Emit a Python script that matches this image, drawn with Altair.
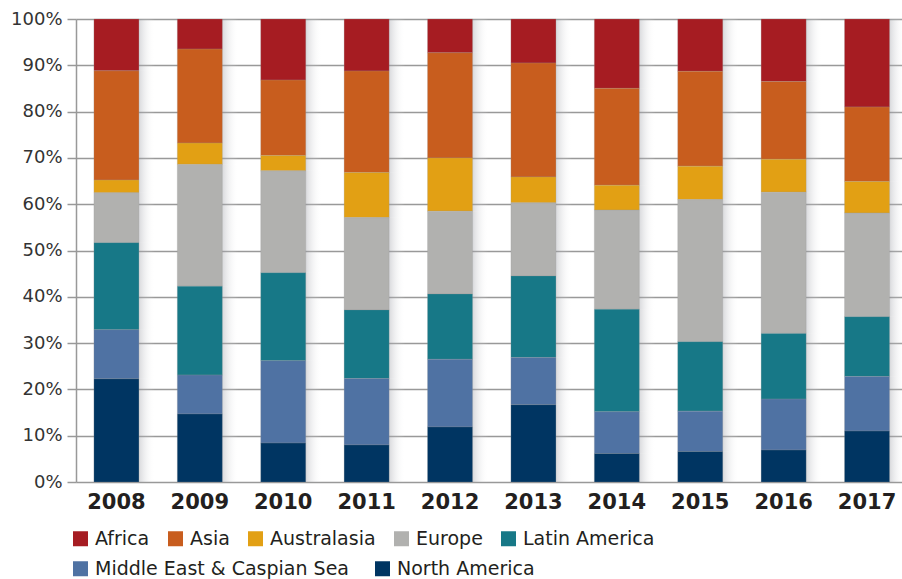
import altair as alt
import pandas as pd

years = ["2008", "2009", "2010", "2011", "2012", "2013", "2014", "2015", "2016", "2017"]
regions = ["Africa", "Asia", "Australasia", "Europe", "Latin America",
           "Middle East & Caspian Sea", "North America"]
colors = ["#A61C22", "#C85D1E", "#E2A014", "#B1B1AF", "#177887", "#4F72A3", "#003562"]

africa = [11.2, 6.5, 13.2, 11.2, 7.3, 9.5, 15.1, 11.3, 13.5, 19.0]
asia = [23.6, 20.3, 16.3, 21.9, 22.7, 24.6, 21.1, 20.5, 16.8, 16.1]
australasia = [2.7, 4.6, 3.3, 9.7, 11.5, 5.6, 5.4, 7.2, 7.1, 6.8]
europe = [10.8, 26.3, 22.0, 19.9, 17.9, 15.8, 21.6, 30.7, 30.5, 22.4]
latin_america = [18.8, 19.2, 19.0, 14.8, 14.1, 17.6, 22.3, 15.0, 14.2, 12.9]
middle_east = [10.6, 8.4, 17.8, 14.3, 14.6, 10.2, 9.1, 8.7, 11.0, 11.8]
north_america = [22.3, 14.7, 8.4, 8.0, 11.9, 16.7, 6.2, 6.6, 6.9, 11.0]

series = [africa, asia, australasia, europe, latin_america, middle_east, north_america]
# stack position: North America at bottom, Africa on top
stack_pos = [6, 5, 4, 3, 2, 1, 0]

rows = []
for r, vals, pos in zip(regions, series, stack_pos):
    for y, v in zip(years, vals):
        rows.append({"year": y, "region": r, "share": v, "pos": pos})
df = pd.DataFrame(rows)

AXFONT = "DejaVu Sans"
LGFONT = "DejaVu Sans"

xscale = alt.Scale(paddingInner=0.46, paddingOuter=0.182, align=0.59)
yscale = alt.Scale(domain=[0, 1], nice=False)

base = alt.Chart(df).transform_stack(
    stack="share", groupby=["year"], as_=["y0", "y1"],
    sort=[alt.SortField("pos", order="ascending")], offset="normalize",
)

shadow = base.mark_bar(
    xOffset=16,
    color=alt.Gradient(
        gradient="linear", x1=0, x2=1, y1=0, y2=0,
        stops=[
            alt.GradientStop(color="rgba(150,152,160,0.0)", offset=0.0),
            alt.GradientStop(color="rgba(150,152,160,0.42)", offset=0.62),
            alt.GradientStop(color="rgba(255,255,255,0.0)", offset=1.0),
        ],
    ),
).encode(
    x=alt.X("year:N", scale=xscale, sort=years,
            axis=alt.Axis(title=None, labelAngle=0, labelFont=AXFONT, labelFontSize=21,
                          labelFontWeight="bold", labelColor="#231F20", ticks=False,
                          domain=False, labelPadding=9, grid=False)),
    y=alt.Y("y0:Q", scale=yscale,
            axis=alt.Axis(title=None, format="%", values=[i / 10 for i in range(11)],
                          labelFont=AXFONT, labelFontSize=18, labelColor="#333333",
                          tickSize=9, tickColor="#999999", tickWidth=1.5,
                          gridColor="#999999", gridWidth=1.5,
                          domain=True, domainColor="#999999", domainWidth=1.5,
                          labelPadding=5)),
    y2="y1:Q",
)

legend_common = dict(title=None, orient="none", legendX=-5, direction="horizontal",
                     symbolType="square", symbolSize=225, symbolStrokeWidth=0,
                     labelFont=LGFONT, labelFontSize=19, labelColor="#231F20",
                     labelOffset=5, labelLimit=400)

top_regions = regions[:5]
bottom_regions = regions[5:]

bars_a = base.transform_filter(
    alt.FieldOneOfPredicate(field="region", oneOf=top_regions)
).mark_bar(stroke="#9a9a9a", strokeWidth=0.4, strokeOpacity=0.6).encode(
    x=alt.X("year:N", scale=xscale, sort=years),
    y=alt.Y("y0:Q", scale=yscale),
    y2="y1:Q",
    color=alt.Color("region:N", scale=alt.Scale(domain=top_regions, range=colors[:5]),
                    legend=alt.Legend(legendY=510, columnPadding=16, **legend_common)),
)

bars_b = base.transform_filter(
    alt.FieldOneOfPredicate(field="region", oneOf=bottom_regions)
).mark_bar(stroke="#9a9a9a", strokeWidth=0.4, strokeOpacity=0.6).encode(
    x=alt.X("year:N", scale=xscale, sort=years),
    y=alt.Y("y0:Q", scale=yscale),
    y2="y1:Q",
    fill=alt.Fill("region:N", scale=alt.Scale(domain=bottom_regions, range=colors[5:]),
                  legend=alt.Legend(legendY=540, columnPadding=24, **legend_common)),
)

chart = alt.layer(shadow, bars_a, bars_b).properties(
    width=826, height=463,
    autosize=alt.AutoSizeParams(type="none"),
    padding={"left": 76, "top": 19, "right": 0, "bottom": 97},
).configure_view(stroke=None).configure(background="white")

chart.save("out.html", embed_options={"renderer": "svg", "actions": False})
